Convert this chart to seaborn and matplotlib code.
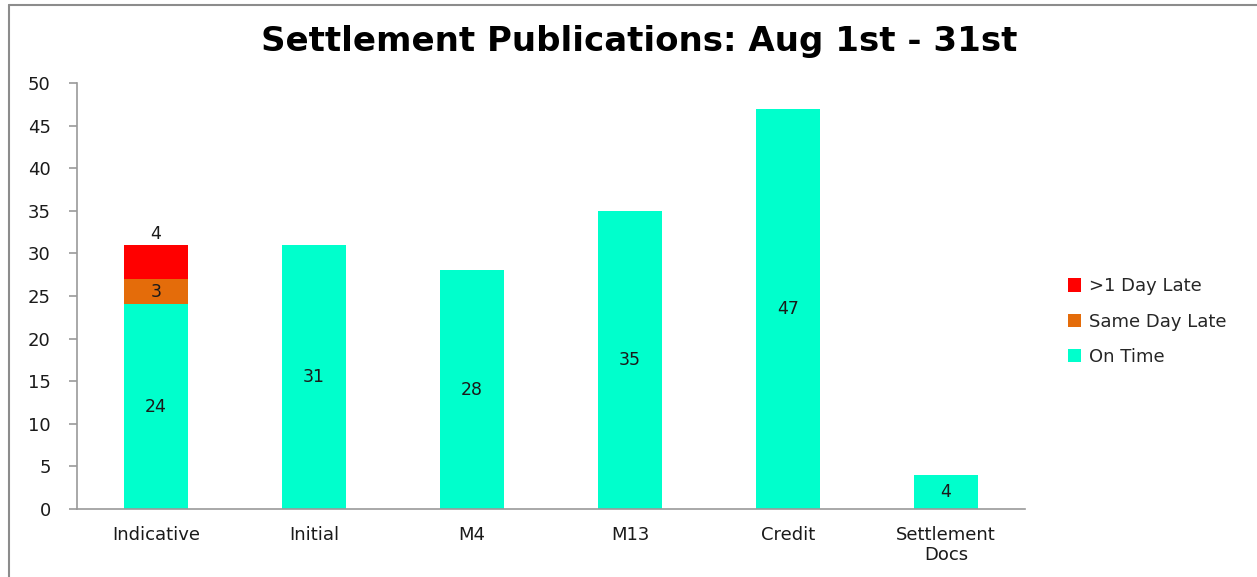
import pandas as pd
import matplotlib
matplotlib.use("Agg")
import matplotlib.pyplot as plt
import seaborn as sns
from matplotlib.lines import Line2D

# Data
categories = ["Indicative", "Initial", "M4", "M13", "Credit", "Settlement\nDocs"]
on_time = [24, 31, 28, 35, 47, 4]
same_day_late = [3, 0, 0, 0, 0, 0]
over_one_day_late = [4, 0, 0, 0, 0, 0]

TEAL = "#00FFCC"
ORANGE = "#E46C0A"
RED = "#FF0000"


def main():
    sns.set_theme(style="white")
    plt.rcParams["font.family"] = ["DejaVu Sans"]

    df = pd.DataFrame({
        "category": categories,
        "on_time": on_time,
        "same_day": same_day_late,
        "late": over_one_day_late,
    })
    df["base_late"] = df["on_time"] + df["same_day"]

    fig = plt.figure(figsize=(12.57, 5.77), dpi=100)
    ax = fig.add_axes([0.0613, 0.1179, 0.7541, 0.7383])

    w = 0.405
    bar_kw = dict(width=w, saturation=1, ax=ax, edgecolor="none", linewidth=0)
    sns.barplot(data=df, x="category", y="on_time", color=TEAL,
                label="On Time", **bar_kw)
    sns.barplot(data=df, x="category", y="same_day", bottom=df["on_time"],
                color=ORANGE, label="Same Day Late", **bar_kw)
    sns.barplot(data=df, x="category", y="late", bottom=df["base_late"],
                color=RED, label=">1 Day Late", **bar_kw)

    # data labels (skip zero segments)
    for i, cont in enumerate(ax.containers):
        vals = [on_time, same_day_late, over_one_day_late][i]
        labels = [str(v) if v else "" for v in vals]
        if i == 2:
            ax.bar_label(cont, labels=labels, label_type="edge", padding=1,
                         fontsize=12.5, color="#1a1a1a")
        else:
            ax.bar_label(cont, labels=labels, label_type="center",
                         fontsize=12.5, color="#1a1a1a")

    ax.set_ylim(0, 50)
    ax.set_xlim(-0.5, len(categories) - 0.5)
    ax.set_yticks(range(0, 51, 5))
    ax.set_xlabel("")
    ax.set_ylabel("")
    fig.text(0.5085, 1 - 41 / 577, "Settlement Publications: Aug 1st - 31st",
             fontsize=24.5, fontweight="bold", color="black",
             ha="center", va="center")

    for s in ["top", "right"]:
        ax.spines[s].set_visible(False)
    for s in ["left", "bottom"]:
        ax.spines[s].set_color("#9a9a9a")
        ax.spines[s].set_linewidth(1.2)

    # ticks between categories on x, outside on y
    ax.set_xticks([i - 0.5 for i in range(len(categories) + 1)], minor=True)
    ax.tick_params(axis="x", which="major", length=0, pad=12, labelsize=13,
                   labelcolor="#1a1a1a")
    ax.tick_params(axis="x", which="minor", length=6, width=1.2,
                   color="#9a9a9a", direction="out")
    ax.tick_params(axis="y", length=6, width=1.2, color="#9a9a9a",
                   direction="out", left=True, labelsize=13,
                   labelcolor="#1a1a1a", pad=13)

    handles, labels = ax.get_legend_handles_labels()
    ax.legend(handles[::-1], labels[::-1], loc="center left",
              bbox_to_anchor=(1.028, 0.44), frameon=False, fontsize=13,
              handlelength=0.75, handleheight=0.75, handletextpad=0.4,
              labelspacing=0.95)

    # chart area border (partially visible in the reference crop)
    fig.add_artist(Line2D([9 / 1257, 9 / 1257], [0, 1 - 5 / 577],
                          transform=fig.transFigure, color="#8c8c8c", lw=1.5))
    fig.add_artist(Line2D([9 / 1257, 1], [1 - 5 / 577, 1 - 5 / 577],
                          transform=fig.transFigure, color="#8c8c8c", lw=1.5))

    fig.savefig("out.png", dpi=100)


if __name__ == "__main__":
    main()
